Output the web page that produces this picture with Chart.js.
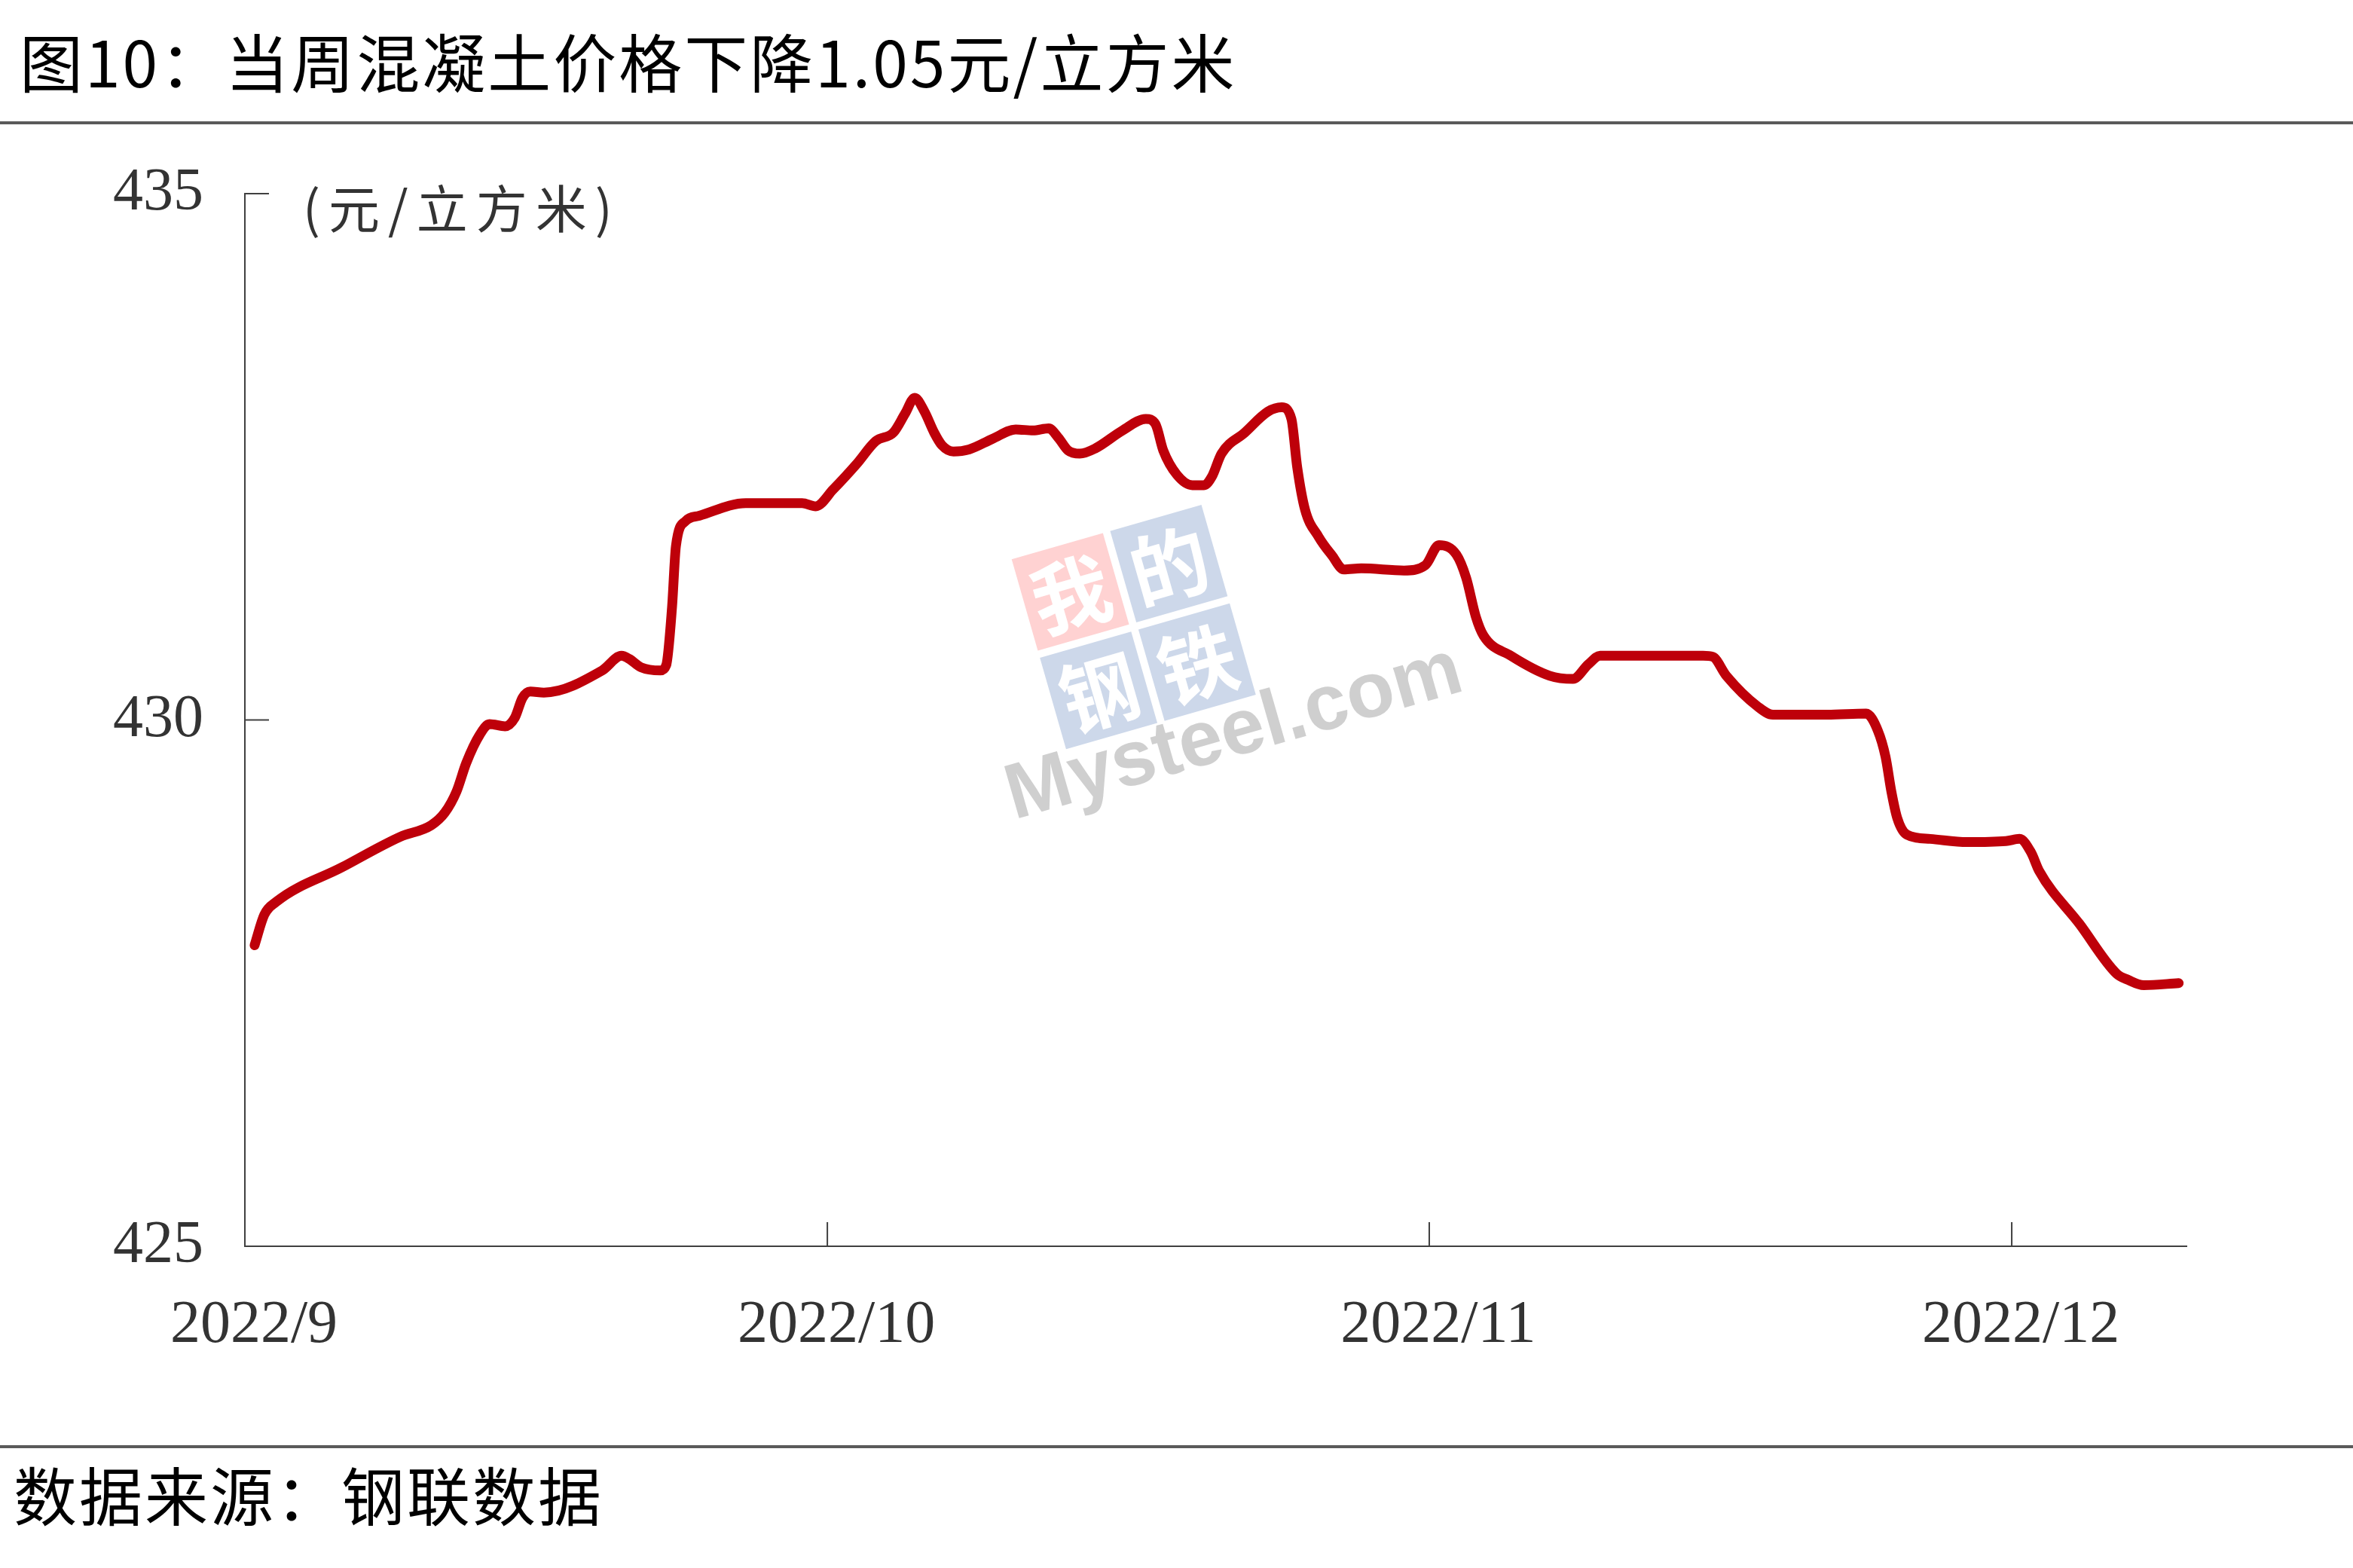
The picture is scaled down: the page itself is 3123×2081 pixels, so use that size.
<!DOCTYPE html>
<html>
<head>
	<meta charset="utf-8">
	<title>图10：当周混凝土价格下降1.05元/立方米</title>
	<!-- Chart.js from the CDN -->
	<script src="https://cdn.jsdelivr.net/npm/chart.js@4.4.1/dist/chart.umd.min.js"></script>
	<style>
		body {
			margin: 0;
			background: #fff;
			font-family: "Noto Sans CJK SC", sans-serif;
		}
		#page {
			position: relative;
			width: 3123px;
			height: 2081px;
			overflow: hidden;
		}
		#chartBox {
			position: absolute;
			left: 0;
			top: 0;
			width: 3123px;
			height: 2081px;
		}
		.rule {
			position: absolute;
			left: 0;
			width: 3123px;
			height: 4px;
			background: #5a5a5a;
		}
		#title {
			position: absolute;
			left: 26px;
			top: 30px;
			font-size: 84px;
			line-height: 100px;
			letter-spacing: 3px;
			color: #000;
			white-space: nowrap;
		}
		#unit {
			position: absolute;
			left: 402px;
			top: 230px;
			font-size: 68px;
			line-height: 88px;
			letter-spacing: 11px;
			color: #333;
			white-space: nowrap;
		}
		#source {
			position: absolute;
			left: 18px;
			top: 1932px;
			font-size: 84px;
			line-height: 100px;
			letter-spacing: 3px;
			color: #000;
			white-space: nowrap;
		}
	</style>
</head>
<body>
<div id="page">
	<div id="chartBox"><canvas id="chart1"></canvas></div>
	<div id="title">图10：当周混凝土价格下降1.05元/立方米</div>
	<div class="rule" style="top: 161px;"></div>
	<div id="unit">(元/立方米)</div>
	<div class="rule" style="top: 1918px;"></div>
	<div id="source">数据来源：钢联数据</div>
</div>
<script>
	// days counted from 2022/9/1
	var dayOffsets = [0.5, 1.0, 1.6, 5.0, 8.0, 9.6, 10.3, 10.9, 11.4, 12.1, 12.6, 13.4, 13.9, 14.3, 14.7, 15.4, 18.4, 19.4, 19.8, 20.4, 21.4, 21.7,
		22.0, 22.2, 22.7, 23.4, 25.8, 28.7, 29.4, 30.3, 31.5, 32.5, 33.4, 34.0, 34.5, 35.0, 35.5, 35.9, 36.5, 37.3, 38.5, 39.7,
		40.6, 41.4, 41.9, 42.4, 43.0, 43.8, 45.2, 46.4, 46.9, 47.3, 48.0, 48.8, 49.4, 49.8, 50.3, 51.5, 52.7, 53.4, 53.9, 54.2,
		54.6, 55.3, 56.0, 56.6, 57.5, 59.7, 60.8, 61.5, 62.4, 62.9, 63.4, 63.8, 65.2, 67.2, 68.4, 69.2, 69.8, 75.1, 75.6, 76.3,
		77.9, 78.7, 81.5, 83.5, 84.1, 84.5, 84.8, 85.1, 85.6, 86.8, 88.7, 90.7, 91.4, 92.0, 92.4, 94.5, 96.4, 97.0, 97.8, 99.6];
	// concrete price (元/立方米)
	var prices = [427.86, 428.15, 428.27, 428.60, 428.89, 429.00, 429.12, 429.32, 429.59, 429.86, 429.96, 429.94, 430.02, 430.21, 430.27, 430.26, 430.47, 430.61, 430.58, 430.50, 430.47, 430.52,
		431.07, 431.65, 431.89, 431.94, 432.06, 432.06, 432.03, 432.19, 432.43, 432.65, 432.73, 432.91, 433.06, 432.93, 432.73, 432.61, 432.55, 432.57, 432.67, 432.76,
		432.75, 432.77, 432.68, 432.56, 432.53, 432.58, 432.75, 432.86, 432.81, 432.56, 432.33, 432.23, 432.23, 432.31, 432.53, 432.73, 432.93, 432.97, 432.86, 432.40,
		432.00, 431.74, 431.56, 431.43, 431.44, 431.42, 431.47, 431.66, 431.57, 431.35, 430.98, 430.80, 430.61, 430.42, 430.39, 430.53, 430.61, 430.61, 430.60, 430.42,
		430.13, 430.05, 430.05, 430.06, 429.90, 429.65, 429.32, 429.07, 428.91, 428.87, 428.84, 428.85, 428.87, 428.74, 428.57, 428.06, 427.59, 427.53, 427.48, 427.50];
	// month ticks on the x axis
	var monthDays = [0, 30, 61, 91];
	var monthLabels = ['2022/9', '2022/10', '2022/11', '2022/12'];
	// y axis ticks
	var yTicks = [425, 430, 435];

	var axisColor = '#404040';
	var points = [];
	for (var i = 0; i < dayOffsets.length; i++) {
		points.push({x: dayOffsets[i], y: prices[i]});
	}

	// short inward tick marks + the faint Mysteel watermark
	var decor = {
		id: 'decor',
		beforeDatasetsDraw: function(chart) {
			var ctx = chart.ctx;
			var a = chart.chartArea;
			var cx = a.left + (a.right - a.left) * 0.4578;
			var cy = a.top + (a.bottom - a.top) * 0.4117;
			ctx.save();
			ctx.translate(cx, cy);
			ctx.rotate(-16 * Math.PI / 180);
			var cells = [['我', '#ffd2d2', -131, -131], ['的', '#cdd8ea', 5, -131], ['钢', '#cdd8ea', -131, 5], ['铁', '#cdd8ea', 5, 5]];
			ctx.textAlign = 'center';
			ctx.textBaseline = 'middle';
			ctx.font = 'bold 104px "Noto Sans CJK SC"';
			cells.forEach(function(c) {
				ctx.fillStyle = c[1];
				ctx.fillRect(c[2], c[3], 126, 126);
				ctx.fillStyle = '#ffffff';
				ctx.fillText(c[0], c[2] + 63, c[3] + 66);
			});
			ctx.textAlign = 'left';
			ctx.textBaseline = 'alphabetic';
			ctx.fillStyle = '#cfcfcf';
			ctx.font = 'bold 104px "Liberation Sans"';
			ctx.fillText('Mysteel.com', -223, 202);
			ctx.restore();
		},
		afterDraw: function(chart) {
			var ctx = chart.ctx;
			var x = chart.scales.x, y = chart.scales.y;
			ctx.save();
			ctx.strokeStyle = axisColor;
			ctx.lineWidth = 2;
			ctx.beginPath();
			yTicks.forEach(function(v) {
				var py = y.getPixelForValue(v);
				ctx.moveTo(x.left, py);
				ctx.lineTo(x.left + 32, py);
			});
			monthDays.slice(1).forEach(function(d) {
				var px = x.getPixelForValue(d);
				ctx.moveTo(px, y.bottom);
				ctx.lineTo(px, y.bottom - 32);
			});
			ctx.stroke();
			ctx.restore();
		}
	};

	var ctx = document.getElementById('chart1');
	var chart = new Chart(ctx, {
		type: 'line',
		data: {
			datasets: [{
				label: '混凝土价格',
				data: points,
				borderColor: '#be000a',
				borderWidth: 13,
				borderCapStyle: 'round',
				borderJoinStyle: 'round',
				cubicInterpolationMode: 'monotone',
				pointRadius: 0,
				fill: false
			}]
		},
		options: {
			responsive: true,
			maintainAspectRatio: false,
			animation: false,
			devicePixelRatio: 1,
			layout: {padding: {left: 0, top: 257, right: 221, bottom: 227}},
			plugins: {
				legend: {display: false},
				tooltip: {enabled: false}
			},
			scales: {
				x: {
					type: 'linear',
					min: 0,
					max: 100,
					afterBuildTicks: function(scale) {
						scale.ticks = monthDays.map(function(d) { return {value: d}; });
					},
					afterFit: function(scale) { scale.height = 200; },
					grid: {display: true, drawOnChartArea: false, drawTicks: false},
					border: {display: true, color: axisColor, width: 2},
					ticks: {
						autoSkip: false,
						maxRotation: 0,
						padding: 58,
						labelOffset: 12,
						color: '#333',
						font: {family: '"Liberation Serif", serif', size: 80},
						callback: function(value, index) { return monthLabels[index]; }
					}
				},
				y: {
					min: 425,
					max: 435,
					afterBuildTicks: function(scale) {
						scale.ticks = yTicks.map(function(v) { return {value: v}; });
					},
					afterFit: function(scale) { scale.width = 325; },
					grid: {display: true, drawOnChartArea: false, drawTicks: false},
					border: {display: true, color: axisColor, width: 2},
					ticks: {
						padding: 55,
						color: '#333',
						font: {family: '"Liberation Serif", serif', size: 80}
					}
				}
			}
		},
		plugins: [decor]
	});
</script>
</body>
</html>
